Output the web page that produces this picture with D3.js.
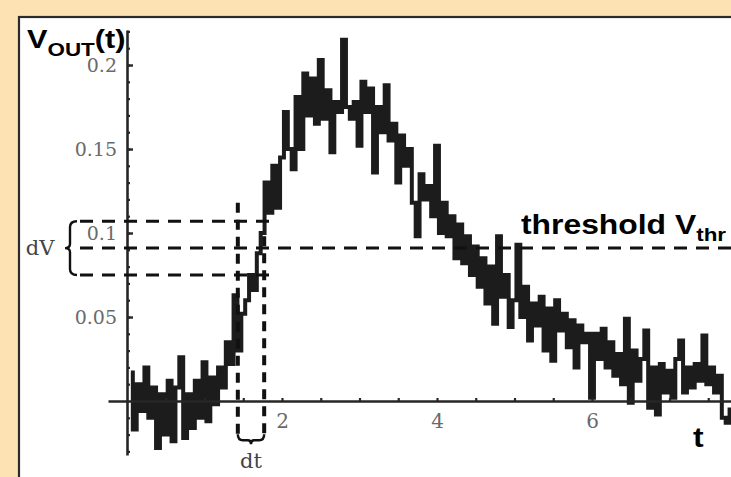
<!DOCTYPE html>
<html>
<head>
<meta charset="utf-8">
<script src="https://cdn.jsdelivr.net/npm/d3@7"></script>
<style>
  html, body { margin: 0; padding: 0; background: #fde2b4; }
  .Chart { width: 731px; height: 477px; }
</style>
</head>
<body>
<div class="Chart"></div>
<script>
// sampled output voltage, one value every 0.05 time units starting at t = 0.05
const sampleStart = 0.05;
const sampleStep = 0.05;

const baselineNoise = [
  0.017, -0.017, 0.01, -0.006, 0.02, -0.01, 0.008, -0.028, 0.004, -0.02, 0.012,
  -0.024, 0.008, 0.026, -0.022, 0.004, -0.016, 0.012, -0.01, 0.023, -0.012
];
const risingEdge = [
  0.014, -0.002, 0.02, 0.008, 0.035, 0.022, 0.063, 0.03, 0.052, 0.06, 0.075,
  0.066, 0.088, 0.1, 0.13, 0.112, 0.14, 0.115, 0.145, 0.172, 0.15, 0.138,
  0.181, 0.15, 0.195, 0.17, 0.192, 0.165
];
const peakAndFall = [
  0.203, 0.168, 0.185, 0.148, 0.178, 0.172, 0.215, 0.175, 0.168, 0.178, 0.152,
  0.19, 0.172, 0.186, 0.136, 0.175, 0.16, 0.188, 0.155, 0.165, 0.13, 0.158,
  0.14, 0.15, 0.118, 0.098, 0.135, 0.12, 0.128, 0.11, 0.152, 0.1, 0.118,
  0.098, 0.11, 0.085
];
const decay = [
  0.105, 0.082, 0.098, 0.075, 0.092, 0.068, 0.085, 0.058, 0.08, 0.046, 0.098,
  0.062, 0.075, 0.044, 0.06, 0.093, 0.05, 0.068, 0.036, 0.058, 0.045, 0.062,
  0.03, 0.055, 0.024, 0.06, 0.042, 0.052, 0.032, 0.048, 0.02, 0.045, 0.035,
  0.04, 0.002
];
const tail = [
  0.04, 0.025, 0.043, 0.02, 0.035, 0.015, 0.028, 0.01, 0.049, -0.001, 0.03,
  0.012, 0.025, 0.042, -0.004, 0.02, -0.008, 0.022, 0.005, 0.018, 0.002,
  0.025, 0.036, 0.005, 0.02, 0.008, 0.022, 0.012, 0.039, 0.01, 0.02, 0.005,
  0.015, -0.01, -0.013, -0.005
];

// annotation values
const thresholdV = 0.091;
const dVBand = [0.075, 0.107];
const dtCrossings = [1.43, 1.77];
const dtLineTops = [0.118, 0.098];

// axis ticks
const yTickLabels = [0.05, 0.1, 0.15, 0.2];
const xTickLabels = [2, 4, 6];

const signal = [].concat(baselineNoise, risingEdge, peakAndFall, decay, tail)
  .map((v, i) => ({ t: sampleStart + i * sampleStep, v: v }));

const w = 731, h = 477;

const xScale = d3.scaleLinear().domain([0, 2]).range([127, 282]);
const yScale = d3.scaleLinear().domain([0, 0.05]).range([401, 317]);

const tMin = xScale.invert(108), tMax = xScale.invert(w + 2);
const vMin = yScale.invert(455), vMax = yScale.invert(30);

const svg = d3.select(".Chart")
  .append("svg")
  .attr("width", w)
  .attr("height", h)
  .style("display", "block");

svg.append("rect")
  .attr("width", w).attr("height", h)
  .attr("fill", "#fde2b4");

svg.append("rect")
  .attr("x", 19).attr("y", 17)
  .attr("width", w + 20).attr("height", h + 20)
  .attr("fill", "#fff")
  .attr("stroke", "#2b2b2b")
  .attr("stroke-width", 2.2);

// signal
const line = d3.line()
  .x(d => xScale(d.t))
  .y(d => yScale(d.v))
  .curve(d3.curveStep);

svg.append("path")
  .datum(signal)
  .attr("d", line)
  .attr("fill", "none")
  .attr("stroke", "#1c1c1c")
  .attr("stroke-width", 4)
  .attr("stroke-linejoin", "miter");

// axes
const xAxisScale = xScale.copy().domain([tMin, tMax]).range([xScale(tMin), xScale(tMax)]);
const yAxisScale = yScale.copy().domain([vMin, vMax]).range([yScale(vMin), yScale(vMax)]);

const xMinor = d3.range(0.5, 7.6, 0.5);
const yMinor = d3.range(-3, 23).map(k => k / 100).filter(v => v !== 0);

const gx = svg.append("g")
  .attr("transform", "translate(0," + yScale(0) + ")")
  .call(d3.axisTop(xAxisScale).tickValues(xMinor).tickSize(3).tickSizeOuter(0).tickFormat(""));
gx.select(".domain").attr("stroke", "#262626").attr("stroke-width", 2.6);
gx.selectAll(".tick line").attr("stroke", "#262626").attr("stroke-width", 2.2);

svg.append("g")
  .attr("transform", "translate(0," + yScale(0) + ")")
  .call(d3.axisBottom(xScale).tickValues(xTickLabels).tickSize(0).tickPadding(13).tickFormat(d3.format("d")))
  .call(g => g.select(".domain").remove())
  .call(g => g.selectAll("text")
    .attr("font-family", "DejaVu Serif")
    .attr("font-size", 20)
    .attr("fill", "#6a6a6a"));

const gy = svg.append("g")
  .attr("transform", "translate(" + xScale(0) + ",0)")
  .call(d3.axisRight(yAxisScale).tickValues(yMinor).tickSize(3).tickSizeOuter(0).tickFormat(""));
gy.select(".domain").attr("stroke", "#262626").attr("stroke-width", 2.6);
gy.selectAll(".tick line").attr("stroke", "#262626").attr("stroke-width", 2.2);

svg.append("g")
  .attr("transform", "translate(" + xScale(0) + ",0)")
  .call(d3.axisRight(yScale).tickValues(yTickLabels).tickSize(6).tickFormat(""))
  .call(g => g.select(".domain").remove())
  .call(g => g.selectAll(".tick line").attr("stroke", "#262626").attr("stroke-width", 2.4));

svg.append("g")
  .attr("transform", "translate(" + xScale(0) + ",0)")
  .call(d3.axisLeft(yScale).tickValues(yTickLabels).tickSize(0).tickPadding(10).tickFormat(d3.format("")))
  .call(g => g.select(".domain").remove())
  .call(g => g.selectAll("text")
    .attr("font-family", "DejaVu Serif")
    .attr("font-size", 19)
    .attr("fill", "#6a6a6a"));

// dashed guide lines
const dashed = svg.append("g")
  .attr("fill", "none")
  .attr("stroke", "#111");

dashed.selectAll("line.band")
  .data(dVBand)
  .enter()
  .append("line")
  .attr("x1", 80)
  .attr("x2", 276)
  .attr("y1", d => yScale(d))
  .attr("y2", d => yScale(d))
  .attr("stroke-width", 3)
  .attr("stroke-dasharray", "13,9");

dashed.append("line")
  .attr("x1", 80)
  .attr("x2", w)
  .attr("y1", yScale(thresholdV))
  .attr("y2", yScale(thresholdV))
  .attr("stroke-width", 3)
  .attr("stroke-dasharray", "13,9");

dashed.selectAll("line.cross")
  .data(dtCrossings)
  .enter()
  .append("line")
  .attr("x1", d => xScale(d))
  .attr("x2", d => xScale(d))
  .attr("y1", (d, i) => yScale(dtLineTops[i]))
  .attr("y2", yScale(-0.021))
  .attr("stroke-width", 4)
  .attr("stroke-dasharray", "10,7");

// dV brace
const bTop = yScale(dVBand[1]), bBot = yScale(dVBand[0]), bMid = yScale(thresholdV);
const bx = 70;
svg.append("path")
  .attr("d",
    "M" + (bx + 7) + "," + bTop +
    " Q" + bx + "," + bTop + " " + bx + "," + (bTop + 6) +
    " L" + bx + "," + (bMid - 4) +
    " Q" + bx + "," + bMid + " " + (bx - 5) + "," + bMid +
    " Q" + bx + "," + bMid + " " + bx + "," + (bMid + 4) +
    " L" + bx + "," + (bBot - 6) +
    " Q" + bx + "," + bBot + " " + (bx + 7) + "," + bBot)
  .attr("fill", "none")
  .attr("stroke", "#111")
  .attr("stroke-width", 2.4);

svg.append("text")
  .attr("x", 40).attr("y", bMid + 7)
  .attr("text-anchor", "middle")
  .attr("font-family", "DejaVu Serif")
  .attr("font-size", 21)
  .attr("fill", "#444")
  .text("dV");

// dt brace
const dx0 = xScale(dtCrossings[0]), dx1 = xScale(dtCrossings[1]);
const dy = yScale(-0.021) + 4, dxm = (dx0 + dx1) / 2;
svg.append("path")
  .attr("d",
    "M" + dx0 + "," + (dy - 6) +
    " Q" + dx0 + "," + dy + " " + (dx0 + 5) + "," + dy +
    " L" + (dxm - 3) + "," + dy +
    " Q" + dxm + "," + dy + " " + dxm + "," + (dy + 4) +
    " Q" + dxm + "," + dy + " " + (dxm + 3) + "," + dy +
    " L" + (dx1 - 5) + "," + dy +
    " Q" + dx1 + "," + dy + " " + dx1 + "," + (dy - 6))
  .attr("fill", "none")
  .attr("stroke", "#111")
  .attr("stroke-width", 2.4);

svg.append("text")
  .attr("x", dxm).attr("y", 468)
  .attr("text-anchor", "middle")
  .attr("font-family", "DejaVu Serif")
  .attr("font-size", 21)
  .attr("fill", "#444")
  .text("dt");

// bold labels
const vout = svg.append("text")
  .attr("transform", "translate(27,48) scale(1.18,1)")
  .attr("font-family", "Liberation Sans, Arial, sans-serif")
  .attr("font-weight", "bold")
  .attr("font-size", 26)
  .attr("fill", "#000");
vout.append("tspan").text("V");
vout.append("tspan").attr("font-size", 19).attr("dy", 8).text("OUT");
vout.append("tspan").attr("dy", -8).text("(t)");

const thr = svg.append("text")
  .attr("transform", "translate(521," + (yScale(thresholdV) - 14) + ") scale(1.18,1)")
  .attr("font-family", "Liberation Sans, Arial, sans-serif")
  .attr("font-weight", "bold")
  .attr("font-size", 27)
  .attr("fill", "#000");
thr.append("tspan").text("threshold V");
thr.append("tspan").attr("font-size", 19).attr("dy", 7).text("thr");

svg.append("text")
  .attr("transform", "translate(693,447) scale(1.18,1)")
  .attr("font-family", "Liberation Sans, Arial, sans-serif")
  .attr("font-weight", "bold")
  .attr("font-size", 27)
  .attr("fill", "#000")
  .text("t");
</script>
</body>
</html>
